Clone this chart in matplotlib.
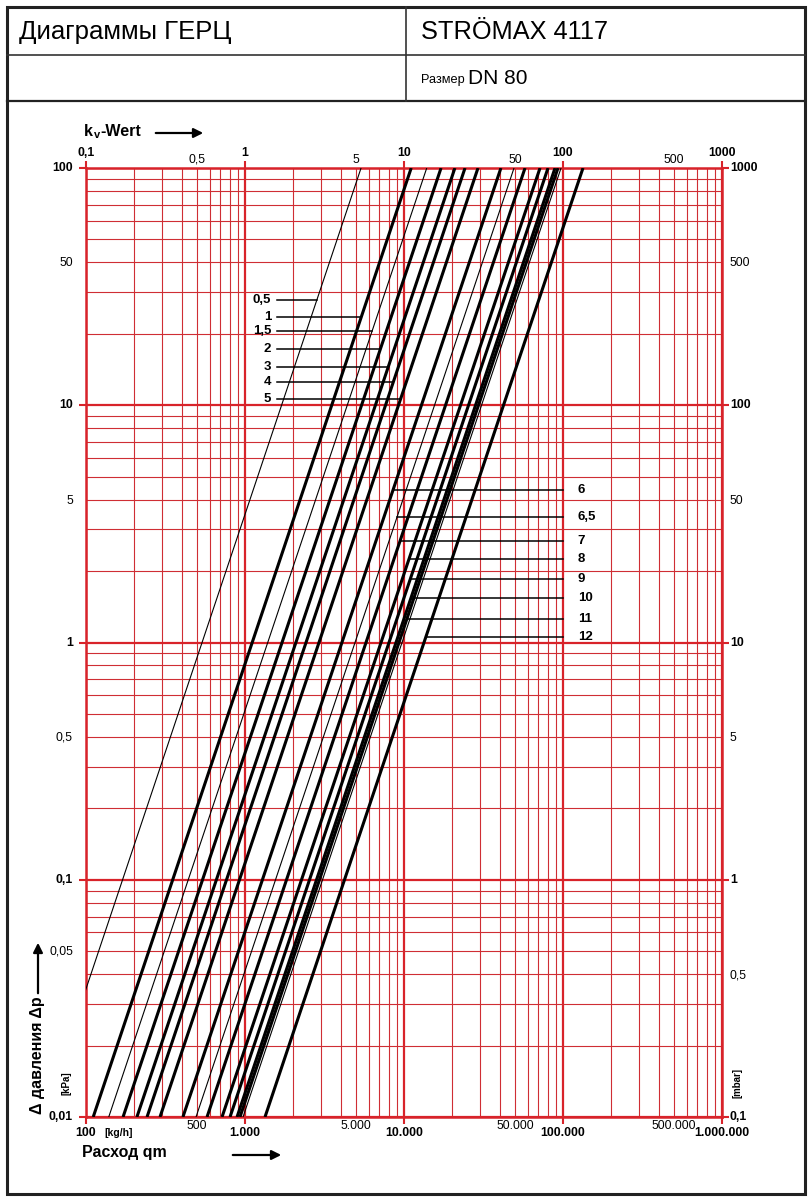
"""
HERZ STRÖMAX 4117 DN 80 - pressure drop diagram (kv lines on a log-log red grid).
"""

import matplotlib
matplotlib.use("Agg")
import matplotlib.pyplot as plt
import numpy as np
from matplotlib.lines import Line2D
from matplotlib.patches import FancyArrowPatch, Rectangle
from matplotlib.ticker import LogLocator, NullFormatter

plt.rcParams["font.family"] = ["Liberation Sans", "DejaVu Sans"]

# kv value of each presetting line, read from where it meets the 100 kPa edge
KV_VALUES = [5.37, 11.1, 13.9, 17.1, 20.9, 24.2, 29.2, 40.7,
             49.2, 57.7, 71.7, 80.5, 89.1, 93.0, 97.2, 133.6]
THICK = [False, True, False, True, True, True, True, True,
         False, True, True, True, True, True, False, True]

# presetting labels: (text, line index, pressure drop in kPa where the leader sits)
LEFT_LABELS = [("0,5", 0, 27.8), ("1", 1, 23.5), ("1,5", 2, 20.6), ("2", 3, 17.3),
               ("3", 4, 14.5), ("4", 5, 12.5), ("5", 6, 10.6)]
RIGHT_LABELS = [("6", 7, 4.39), ("6,5", 8, 3.38), ("7", 9, 2.68), ("8", 10, 2.25),
                ("9", 11, 1.85), ("10", 12, 1.54), ("11", 13, 1.26), ("12", 15, 1.055)]

# axis ticks
Q_TICKS = [100, 500, 1000, 5000, 10000, 50000, 100000, 500000, 1000000]
Q_LABELS = ["100", "500", "1.000", "5.000", "10.000", "50.000", "100.000", "500.000", "1.000.000"]
KV_TICKS = [0.1, 0.5, 1, 5, 10, 50, 100, 500, 1000]
KV_LABELS = ["0,1", "0,5", "1", "5", "10", "50", "100", "500", "1000"]
DP_TICKS = [100, 50, 10, 5, 1, 0.5, 0.1, 0.05, 0.01]
DP_LABELS = ["100", "50", "10", "5", "1", "0,5", "0,1", "0,05", "0,01"]
MBAR_TICKS = [1000, 500, 100, 50, 10, 5, 1, 0.5, 0.1]
MBAR_LABELS = ["1000", "500", "100", "50", "10", "5", "1", "0,5", "0,1"]

W, H = 812, 1200
RED = "#d8232a"
RED_MINOR = "#cf2e34"


def fx(px):
    return px / W


def fy(py):
    return 1 - py / H


def flow(kv, dp):
    # kg/h of water through kv at dp kPa
    return 1000.0 * kv * np.sqrt(np.asarray(dp) / 100.0)


def is_major(v):
    return abs(np.log10(v) - round(np.log10(v))) < 1e-6


fig = plt.figure(figsize=(W / 100, H / 100), dpi=100)

# ---- frame and header ----
fig.add_artist(Rectangle((fx(7), fy(1194)), fx(805) - fx(7), fy(7) - fy(1194),
                         transform=fig.transFigure, fill=False, lw=2.2, ec="#222222"))
fig.add_artist(Line2D([fx(7), fx(805)], [fy(55), fy(55)], transform=fig.transFigure,
                      lw=1.2, color="#333333"))
fig.add_artist(Line2D([fx(7), fx(805)], [fy(101), fy(101)], transform=fig.transFigure,
                      lw=1.6, color="#222222"))
fig.add_artist(Line2D([fx(406), fx(406)], [fy(7), fy(101)], transform=fig.transFigure,
                      lw=1.2, color="#333333"))
fig.text(fx(19), fy(32), "Диаграммы ГЕРЦ", fontsize=18.5, va="center", ha="left")
fig.text(fx(421), fy(32), "STRÖMAX 4117", fontsize=18.3, va="center", ha="left")
fig.text(fx(421), fy(80), "Размер", fontsize=9.2, va="center", ha="left")
fig.text(fx(468), fy(78), "DN 80", fontsize=15, va="center", ha="left")

# ---- chart ----
ax = fig.add_axes([fx(86), fy(1117), fx(722) - fx(86), fy(168) - fy(1117)])
ax.set_xscale("log")
ax.set_yscale("log")
ax.set_xlim(100, 1e6)
ax.set_ylim(0.01, 100)

for axis in (ax.xaxis, ax.yaxis):
    axis.set_minor_locator(LogLocator(base=10, subs=np.arange(2, 10)))
    axis.set_minor_formatter(NullFormatter())
    axis.set_major_formatter(NullFormatter())
ax.grid(which="major", color=RED, lw=1.6)
ax.grid(which="minor", color=RED_MINOR, lw=0.8)
ax.set_axisbelow(True)
ax.tick_params(which="major", direction="out", length=5, width=1.5, color=RED,
               top=True, right=True)
ax.tick_params(which="minor", length=0)
for sp in ax.spines.values():
    sp.set_color(RED)
    sp.set_linewidth(1.8)

dp = np.array([0.01, 100.0])
for kv, thick in zip(KV_VALUES, THICK):
    ax.plot(flow(kv, dp), dp, color="black", lw=2.2 if thick else 0.8,
            solid_capstyle="butt", zorder=3)

# presetting leaders and labels
for text, idx, p in LEFT_LABELS:
    ax.plot([1590, flow(KV_VALUES[idx], p)], [p, p], color="black", lw=1.1, zorder=4)
    ax.text(1460, p, text, ha="right", va="center", fontsize=9.5, fontweight="bold")
for text, idx, p in RIGHT_LABELS:
    ax.plot([flow(KV_VALUES[idx], p), 100000], [p, p], color="black", lw=1.1, zorder=4)
    ax.text(124000, p, text, ha="left", va="center", fontsize=9.5, fontweight="bold")

# tick labels drawn by hand (bold decades, regular fives)
TS = 8.8
for v, lab in zip(Q_TICKS, Q_LABELS):
    major = is_major(v)
    ax.annotate(lab, xy=(v, 0), xycoords=("data", "axes fraction"),
                xytext=(0, -16 if major else -9), textcoords="offset pixels",
                ha="center", va="center", fontsize=TS,
                fontweight="bold" if major else "normal")
for v, lab in zip(KV_TICKS, KV_LABELS):
    major = is_major(v)
    ax.annotate(lab, xy=(v * 1000, 1), xycoords=("data", "axes fraction"),
                xytext=(0, 15 if major else 8), textcoords="offset pixels",
                ha="center", va="center", fontsize=TS,
                fontweight="bold" if major else "normal")
for v, lab in zip(DP_TICKS, DP_LABELS):
    major = is_major(v)
    dy = 0 if (major or v == 0.05) else -24
    ax.annotate(lab, xy=(0, v), xycoords=("axes fraction", "data"),
                xytext=(-13, dy), textcoords="offset pixels",
                ha="right", va="center", fontsize=TS,
                fontweight="bold" if major else "normal")
for v, lab in zip(MBAR_TICKS, MBAR_LABELS):
    major = is_major(v)
    ax.annotate(lab, xy=(1, v / 10.0), xycoords=("axes fraction", "data"),
                xytext=(8, 0 if major else -24), textcoords="offset pixels",
                ha="left", va="center", fontsize=TS,
                fontweight="bold" if major else "normal")

# units
fig.text(fx(104), fy(1133), "[kg/h]", fontsize=7.5, fontweight="bold", va="center", ha="left")
fig.text(fx(67), fy(1083), "[kPa]", fontsize=7, fontweight="bold", rotation=90,
         va="center", ha="center")
fig.text(fx(738), fy(1083), "[mbar]", fontsize=7, fontweight="bold", rotation=90,
         va="center", ha="center")

# axis titles with arrows
fig.text(fx(84), fy(132), "k", fontsize=11.5, fontweight="bold", va="center", ha="left")
fig.text(fx(93.5), fy(135), "v", fontsize=8, fontweight="bold", va="center", ha="left")
fig.text(fx(100), fy(132), "-Wert", fontsize=11.5, fontweight="bold", va="center", ha="left")
fig.text(fx(82), fy(1153), "Расход qm", fontsize=11.5, fontweight="bold", va="center", ha="left")
fig.text(fx(38), fy(1114), "Δ давления Δp", fontsize=11.5, fontweight="bold", rotation=90,
         va="bottom", ha="center")


def arrow(x0, y0, x1, y1):
    fig.add_artist(FancyArrowPatch((fx(x0), fy(y0)), (fx(x1), fy(y1)),
                                   transform=fig.transFigure, arrowstyle="-|>",
                                   mutation_scale=14, lw=1.6, color="black"))


arrow(153, 133, 206, 133)
arrow(230, 1155, 284, 1155)
arrow(38, 996, 38, 940)

fig.savefig("out.png", dpi=100)
